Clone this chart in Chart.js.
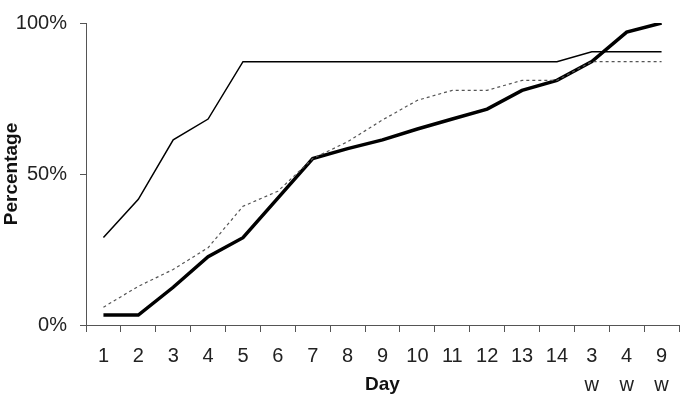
<!DOCTYPE html>
<html>
<head>
<meta charset="utf-8">
<script src="https://cdn.jsdelivr.net/npm/chart.js@4"></script>
<style>
  html, body { margin: 0; padding: 0; background: #fff; }
  #wrap { width: 685px; height: 401px; }
</style>
</head>
<body>
<div id="wrap"><canvas id="chart" width="685" height="401"></canvas></div>
<script>
const days = ['1', '2', '3', '4', '5', '6', '7', '8', '9', '10', '11', '12', '13', '14', ['3', 'w'], ['4', 'w'], ['9', 'w']];
const thinSeries = [29, 41.6, 61.3, 68.2, 87.2, 87.2, 87.2, 87.2, 87.2, 87.2, 87.2, 87.2, 87.2, 87.2, 90.5, 90.5, 90.5];
const dashedSeries = [5.9, 12.8, 18.4, 25.6, 39.3, 44.3, 55.1, 60.7, 67.9, 74.4, 77.7, 77.7, 81, 81, 87.2, 87.2, 87.2];
const thickSeries = [3.3, 3.3, 12.5, 22.6, 28.9, 42, 55.1, 58.4, 61.3, 64.9, 68.2, 71.5, 77.7, 81, 87.2, 97, 100];
const yTicks = [0, 50, 100];

const font = 'Liberation Sans, Arial, sans-serif';
const axisColor = '#555';

new Chart(document.getElementById('chart'), {
  type: 'line',
  data: {
    labels: days,
    datasets: [
      { data: thinSeries, borderColor: '#000', borderWidth: 1.5 },
      { data: dashedSeries, borderColor: '#555', borderWidth: 1.2, borderDash: [3, 3] },
      { data: thickSeries, borderColor: '#000', borderWidth: 3.5 }
    ]
  },
  options: {
    responsive: false,
    animation: false,
    elements: { point: { radius: 0 }, line: { tension: 0 } },
    layout: { padding: { top: 18, right: 6, left: 0, bottom: 0 } },
    plugins: { legend: { display: false }, tooltip: { enabled: false } },
    scales: {
      x: {
        offset: true,
        afterFit: function (s) { s.height = 76; },
        grid: { offset: true, drawOnChartArea: false, tickLength: 7, color: axisColor },
        border: { color: axisColor },
        ticks: { color: '#222', padding: 10, maxRotation: 0, autoSkip: false, font: { family: font, size: 20, lineHeight: 1.45 } },
        title: { display: true, text: 'Day', color: '#111', padding: { top: 0, bottom: 5 }, font: { family: font, size: 19, weight: 'bold' } }
      },
      y: {
        min: 0,
        max: 100,
        afterFit: function (s) { s.width = 86; },
        afterBuildTicks: function (s) { s.ticks = yTicks.map(function (v) { return { value: v }; }); },
        grid: { drawOnChartArea: false, tickLength: 6, color: axisColor },
        border: { color: axisColor },
        ticks: { color: '#222', padding: 13, font: { family: font, size: 20, lineHeight: 1 }, callback: function (v) { return v + '%'; } },
        title: { display: true, text: 'Percentage', color: '#111', padding: { top: 0, bottom: 0 }, font: { family: font, size: 19, weight: 'bold' } }
      }
    }
  }
});
</script>
</body>
</html>
